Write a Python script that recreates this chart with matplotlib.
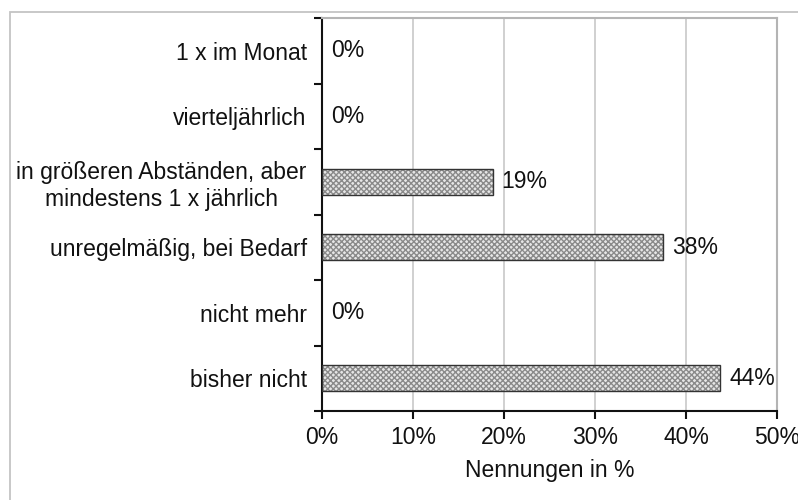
import numpy as np
import matplotlib
matplotlib.use("Agg")
import matplotlib.pyplot as plt
from matplotlib.patches import Rectangle
from matplotlib.ticker import FixedLocator, PercentFormatter

plt.rcParams["font.family"] = ["Liberation Sans", "DejaVu Sans"]

categories = [
    "1 x im Monat",
    "vierteljährlich",
    "in größeren Abständen, aber\nmindestens 1 x jährlich",
    "unregelmäßig, bei Bedarf",
    "nicht mehr",
    "bisher nicht",
]
values = [0, 0, 18.75, 37.5, 0, 43.75]
value_labels = ["0%", "0%", "19%", "38%", "0%", "44%"]
x_ticks = [0, 10, 20, 30, 40, 50]

fs = 16.5
fig = plt.figure(figsize=(7.98, 5.0), dpi=100)
ax = fig.add_axes([322 / 798, 1 - 411 / 500, 455 / 798, 393 / 500])

# outer frame of the chart object
fig.patches.append(Rectangle((10 / 798, -0.1), 1.0, 1 - 12 / 500 + 0.1,
                             transform=fig.transFigure, fill=False,
                             edgecolor="#c4c4c4", linewidth=1.3))

y = np.arange(len(categories))
vals = np.array(values, dtype=float)
shown = vals > 0
# hatched fill, then a dark outline on top (zero bars are not drawn)
ax.barh(y[shown], vals[shown], height=0.4, color="#e6e6e6",
        edgecolor="#8a8a8a", hatch="xxxxxx", linewidth=0, zorder=2)
ax.barh(y[shown], vals[shown], height=0.4, fill=False, edgecolor="#333333",
        linewidth=1.0, zorder=3)

for yi, v, lab in zip(y, values, value_labels):
    ax.text(v + 1.0, yi, lab, va="center", ha="left", fontsize=fs,
            color="#111111")

ax.set_xlim(0, 50)
ax.set_ylim(len(categories) - 0.5, -0.5)
ax.set_xticks(x_ticks)
ax.xaxis.set_major_formatter(PercentFormatter(decimals=0))
ax.set_yticks(y)
ax.set_yticklabels(categories, multialignment="center")
ax.yaxis.set_minor_locator(FixedLocator(np.arange(-0.5, len(categories), 1.0)))
ax.tick_params(axis="y", which="major", length=0, pad=11, labelsize=fs,
               colors="#111111")
ax.tick_params(axis="y", which="minor", length=6, width=1.5, color="#111111")
ax.tick_params(axis="x", length=6, width=1.5, pad=5, labelsize=fs,
               colors="#111111")
ax.set_xlabel("Nennungen in %", fontsize=fs, labelpad=7, color="#111111")

ax.grid(axis="x", color="#c8c8c8", linewidth=1.2, zorder=0)
ax.set_axisbelow(True)
for side in ["top", "right"]:
    ax.spines[side].set_color("#b4b4b4")
    ax.spines[side].set_linewidth(1.5)
for side in ["left", "bottom"]:
    ax.spines[side].set_color("#111111")
    ax.spines[side].set_linewidth(1.5)

fig.savefig("out.png", dpi=100)
